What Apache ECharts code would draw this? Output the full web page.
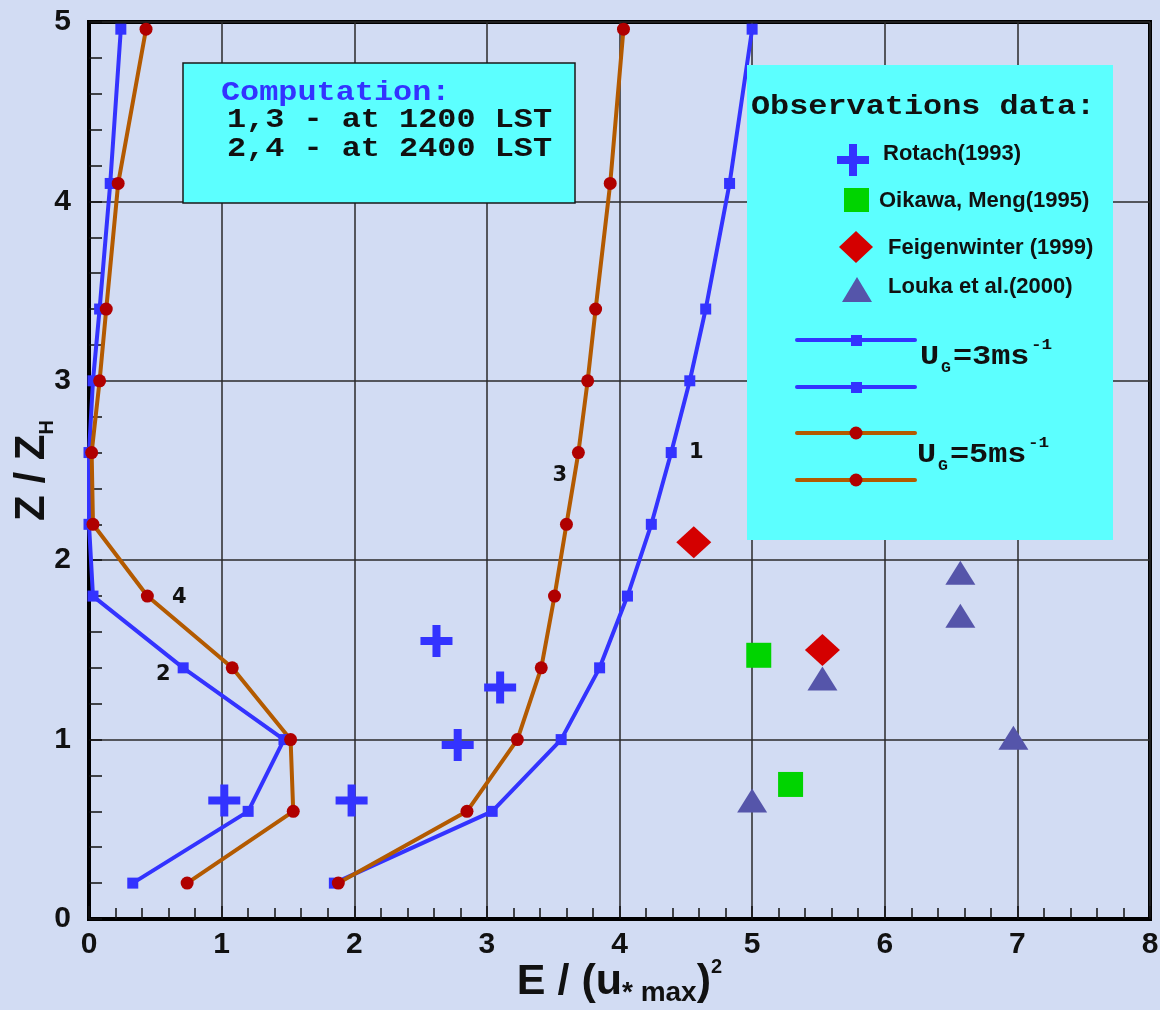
<!DOCTYPE html>
<html>
<head>
<meta charset="utf-8">
<script src="https://cdn.jsdelivr.net/npm/echarts@6/dist/echarts.min.js"></script>
<style>
  html, body { margin: 0; padding: 0; background: #d2dcf3; }
  #chart { width: 1160px; height: 1010px; }
</style>
</head>
<body>
<div id="chart"></div>
<script>
// Heights Z/Z_H at which the model profiles are computed
const heights = [0.2, 0.6, 1.0, 1.4, 1.8, 2.2, 2.6, 3.0, 3.4, 4.1, 4.96];

// Computed E/(u*max)^2 profiles
const curve1 = [1.85, 3.04, 3.56, 3.85, 4.06, 4.24, 4.39, 4.53, 4.65, 4.83, 5.00]; // 1200 LST, Ug=3
const curve2 = [0.33, 1.20, 1.47, 0.71, 0.03, 0.00, 0.00, 0.03, 0.08, 0.16, 0.24]; // 2400 LST, Ug=3
const curve3 = [1.88, 2.85, 3.23, 3.41, 3.51, 3.60, 3.69, 3.76, 3.82, 3.93, 4.03]; // 1200 LST, Ug=5
const curve4 = [0.74, 1.54, 1.52, 1.08, 0.44, 0.03, 0.02, 0.08, 0.13, 0.22, 0.43]; // 2400 LST, Ug=5

// Curve number tags: [E, Z, text]
const curveTags = [
  [4.58, 2.6, '1'],
  [0.56, 1.36, '2'],
  [3.55, 2.47, '3'],
  [0.68, 1.79, '4']
];

// Observations
const rotachE = [1.02, 1.98, 2.78, 3.10, 2.62];
const rotachZ = [0.66, 0.66, 0.97, 1.29, 1.55];
const oikawaE = [5.05, 5.29];
const oikawaZ = [1.47, 0.75];
const feigenE = [4.56, 5.53];
const feigenZ = [2.10, 1.50];
const loukaE = [5.00, 5.53, 6.57, 6.57, 6.97];
const loukaZ = [0.66, 1.34, 1.69, 1.93, 1.01];

// Axis ticks
const xTicks = [0, 1, 2, 3, 4, 5, 6, 7, 8];
const yTicks = [0, 1, 2, 3, 4, 5];

const BLUE = '#3333ff';
const ORANGE = '#b35a00';
const DOT = '#b00000';
const CYAN = '#5cffff';
const MONO = '"Liberation Mono", "DejaVu Sans Mono", monospace';
const SANS = '"Liberation Sans", Arial, sans-serif';
const CROSS = 'path://M12,0H20V12H32V20H20V32H12V20H0V12H12Z';

const pairs = (xs, ys) => xs.map((v, i) => [v, ys[i]]);

function profile(name, xs, color, symbol, size, symColor) {
  return {
    type: 'line', name, data: pairs(xs, heights),
    symbol, symbolSize: size, showSymbol: true, z: 4,
    lineStyle: { color, width: 4 },
    itemStyle: { color: symColor, borderWidth: 0, opacity: 1 },
    emphasis: { disabled: true }, animation: false
  };
}

function observed(name, xs, ys, symbol, size, color) {
  return {
    type: 'scatter', name, data: pairs(xs, ys), symbol, symbolSize: size,
    itemStyle: { color, opacity: 1 }, z: 5, animation: false,
    emphasis: { disabled: true }
  };
}

const chart = echarts.init(document.getElementById('chart'), null, { renderer: 'canvas' });

const series = [
  profile('curve2', curve2, BLUE, 'rect', 11, BLUE),
  profile('curve4', curve4, ORANGE, 'circle', 13, DOT),
  profile('curve1', curve1, BLUE, 'rect', 11, BLUE),
  profile('curve3', curve3, ORANGE, 'circle', 13, DOT),
  observed('Rotach(1993)', rotachE, rotachZ, CROSS, 32, BLUE),
  observed('Oikawa, Meng(1995)', oikawaE, oikawaZ, 'rect', 25, '#00d400'),
  observed('Feigenwinter (1999)', feigenE, feigenZ, 'diamond', [35, 32], '#d40000'),
  observed('Louka et al.(2000)', loukaE, loukaZ, 'triangle', [30, 24], '#5555aa'),
  {
    type: 'scatter', name: 'tags', data: curveTags.map(t => ({ value: [t[0], t[1]], name: t[2] })),
    symbolSize: 0, z: 6, animation: false, silent: true,
    itemStyle: { opacity: 1 },
    label: { show: true, position: 'inside', formatter: '{b}', color: '#111', fontFamily: '"DejaVu Sans", sans-serif', fontWeight: 'bold', fontSize: 21 }
  }
];

// Legend panel contents
function monoText(x, y, text, size, color, sx) {
  return { type: 'text', x, y, scaleX: sx, z: 12,
    style: { text, font: 'bold ' + size + 'px ' + MONO, fill: color, verticalAlign: 'middle', align: 'left' } };
}
function sansText(x, y, text) {
  return { type: 'text', x, y, z: 12,
    style: { text, font: 'bold 22px ' + SANS, fill: '#111', verticalAlign: 'middle', align: 'left' } };
}
function sampleLine(y, color, marker) {
  const els = [{ type: 'line', z: 12, shape: { x1: 797, y1: y, x2: 915, y2: y }, style: { stroke: color, lineWidth: 4, lineCap: 'round' } }];
  if (marker === 'rect') els.push({ type: 'rect', z: 13, shape: { x: 851, y: y - 5, width: 11, height: 11 }, style: { fill: BLUE } });
  else els.push({ type: 'circle', z: 13, shape: { cx: 856, cy: y, r: 6.5 }, style: { fill: DOT } });
  return els;
}
function crossIcon(cx, cy, s, t) {
  const a = s / 2, b = t / 2;
  return { type: 'polygon', z: 12, style: { fill: BLUE }, shape: { points: [
    [cx - b, cy - a], [cx + b, cy - a], [cx + b, cy - b], [cx + a, cy - b], [cx + a, cy + b], [cx + b, cy + b],
    [cx + b, cy + a], [cx - b, cy + a], [cx - b, cy + b], [cx - a, cy + b], [cx - a, cy - b], [cx - b, cy - b]
  ] } };
}

const graphics = [
  // computation box
  { type: 'rect', z: 10, shape: { x: 183, y: 63, width: 392, height: 140 }, style: { fill: CYAN, stroke: '#1a1a1a', lineWidth: 1.5 } },
  monoText(221, 93, 'Computation:', 27, BLUE, 1.18),
  monoText(227, 120, '1,3 - at 1200 LST', 27, '#111', 1.18),
  monoText(227, 149, '2,4 - at 2400 LST', 27, '#111', 1.18),
  // observations box
  { type: 'rect', z: 10, shape: { x: 747, y: 65, width: 366, height: 475 }, style: { fill: CYAN } },
  monoText(751, 107, 'Observations data:', 27, '#111', 1.18),
  crossIcon(853, 160, 32, 8),
  sansText(883, 154, 'Rotach(1993)'),
  { type: 'rect', z: 12, shape: { x: 844, y: 188, width: 25, height: 24 }, style: { fill: '#00d400' } },
  sansText(879, 201, 'Oikawa, Meng(1995)'),
  { type: 'polygon', z: 12, shape: { points: [[856, 231], [873, 247], [856, 263], [839, 247]] }, style: { fill: '#d40000' } },
  sansText(888, 248, 'Feigenwinter (1999)'),
  { type: 'polygon', z: 12, shape: { points: [[857, 277], [872, 302], [842, 302]] }, style: { fill: '#5555aa' } },
  sansText(888, 287, 'Louka et al.(2000)'),
  ...sampleLine(340, BLUE, 'rect'),
  ...sampleLine(387, BLUE, 'rect'),
  ...sampleLine(433, ORANGE, 'circle'),
  ...sampleLine(480, ORANGE, 'circle'),
  monoText(920, 357, 'U', 27, '#111', 1.18),
  monoText(941, 368, 'G', 14, '#111', 1.18),
  monoText(953, 357, '=3ms', 27, '#111', 1.18),
  monoText(1031, 345, '-1', 15, '#111', 1.18),
  monoText(917, 455, 'U', 27, '#111', 1.18),
  monoText(938, 466, 'G', 14, '#111', 1.18),
  monoText(950, 455, '=5ms', 27, '#111', 1.18),
  monoText(1028, 443, '-1', 15, '#111', 1.18)
];

const axisCommon = {
  type: 'value',
  axisLine: { show: true, onZero: false, lineStyle: { color: '#000', width: 4 } },
  splitLine: { show: true, lineStyle: { color: '#2a2a2a', width: 1.5 } },
  minorTick: { show: true, splitNumber: 5, length: 13, lineStyle: { color: '#111', width: 1.5 } },
  axisTick: { show: true, inside: true, length: 13, lineStyle: { color: '#111', width: 1.5 } },
  axisLabel: { color: '#111', fontFamily: SANS, fontWeight: 'bold', fontSize: 30 },
  nameMoveOverlap: false
};

chart.setOption({
  backgroundColor: '#d2dcf3',
  animation: false,
  grid: {
    left: 89, right: 10, top: 22, bottom: 91, outerBoundsMode: 'none', containLabel: false,
    show: true, borderColor: '#000', borderWidth: 4, backgroundColor: 'transparent'
  },
  xAxis: Object.assign({}, axisCommon, {
    min: xTicks[0], max: xTicks[xTicks.length - 1], interval: 1,
    minorTick: Object.assign({}, axisCommon.minorTick, { length: 11 }),
    axisLabel: Object.assign({}, axisCommon.axisLabel, { margin: 11 }),
    name: '{m|E / (u}{s|* max}{m|)}{p|2}',
    nameLocation: 'middle', nameGap: 38,
    nameTextStyle: {
      rich: {
        m: { fontFamily: SANS, fontWeight: 'bold', fontSize: 43, color: '#111', lineHeight: 50, verticalAlign: 'middle' },
        s: { fontFamily: SANS, fontWeight: 'bold', fontSize: 28, color: '#111', verticalAlign: 'bottom', lineHeight: 28 },
        p: { fontFamily: SANS, fontWeight: 'bold', fontSize: 20, color: '#111', verticalAlign: 'top', lineHeight: 20 }
      }
    }
  }),
  yAxis: Object.assign({}, axisCommon, {
    min: yTicks[0], max: yTicks[yTicks.length - 1], interval: 1,
    axisLabel: Object.assign({}, axisCommon.axisLabel, { margin: 18 }),
    name: '{m|Z / Z}{s|H}',
    nameLocation: 'middle', nameGap: 32, nameRotate: 90,
    nameTextStyle: {
      rich: {
        m: { fontFamily: SANS, fontWeight: 'bold', fontSize: 42, color: '#111', lineHeight: 50, verticalAlign: 'middle' },
        s: { fontFamily: SANS, fontWeight: 'bold', fontSize: 20, color: '#111', verticalAlign: 'bottom', lineHeight: 20 }
      }
    }
  }),
  series,
  graphic: graphics
});
</script>
</body>
</html>
